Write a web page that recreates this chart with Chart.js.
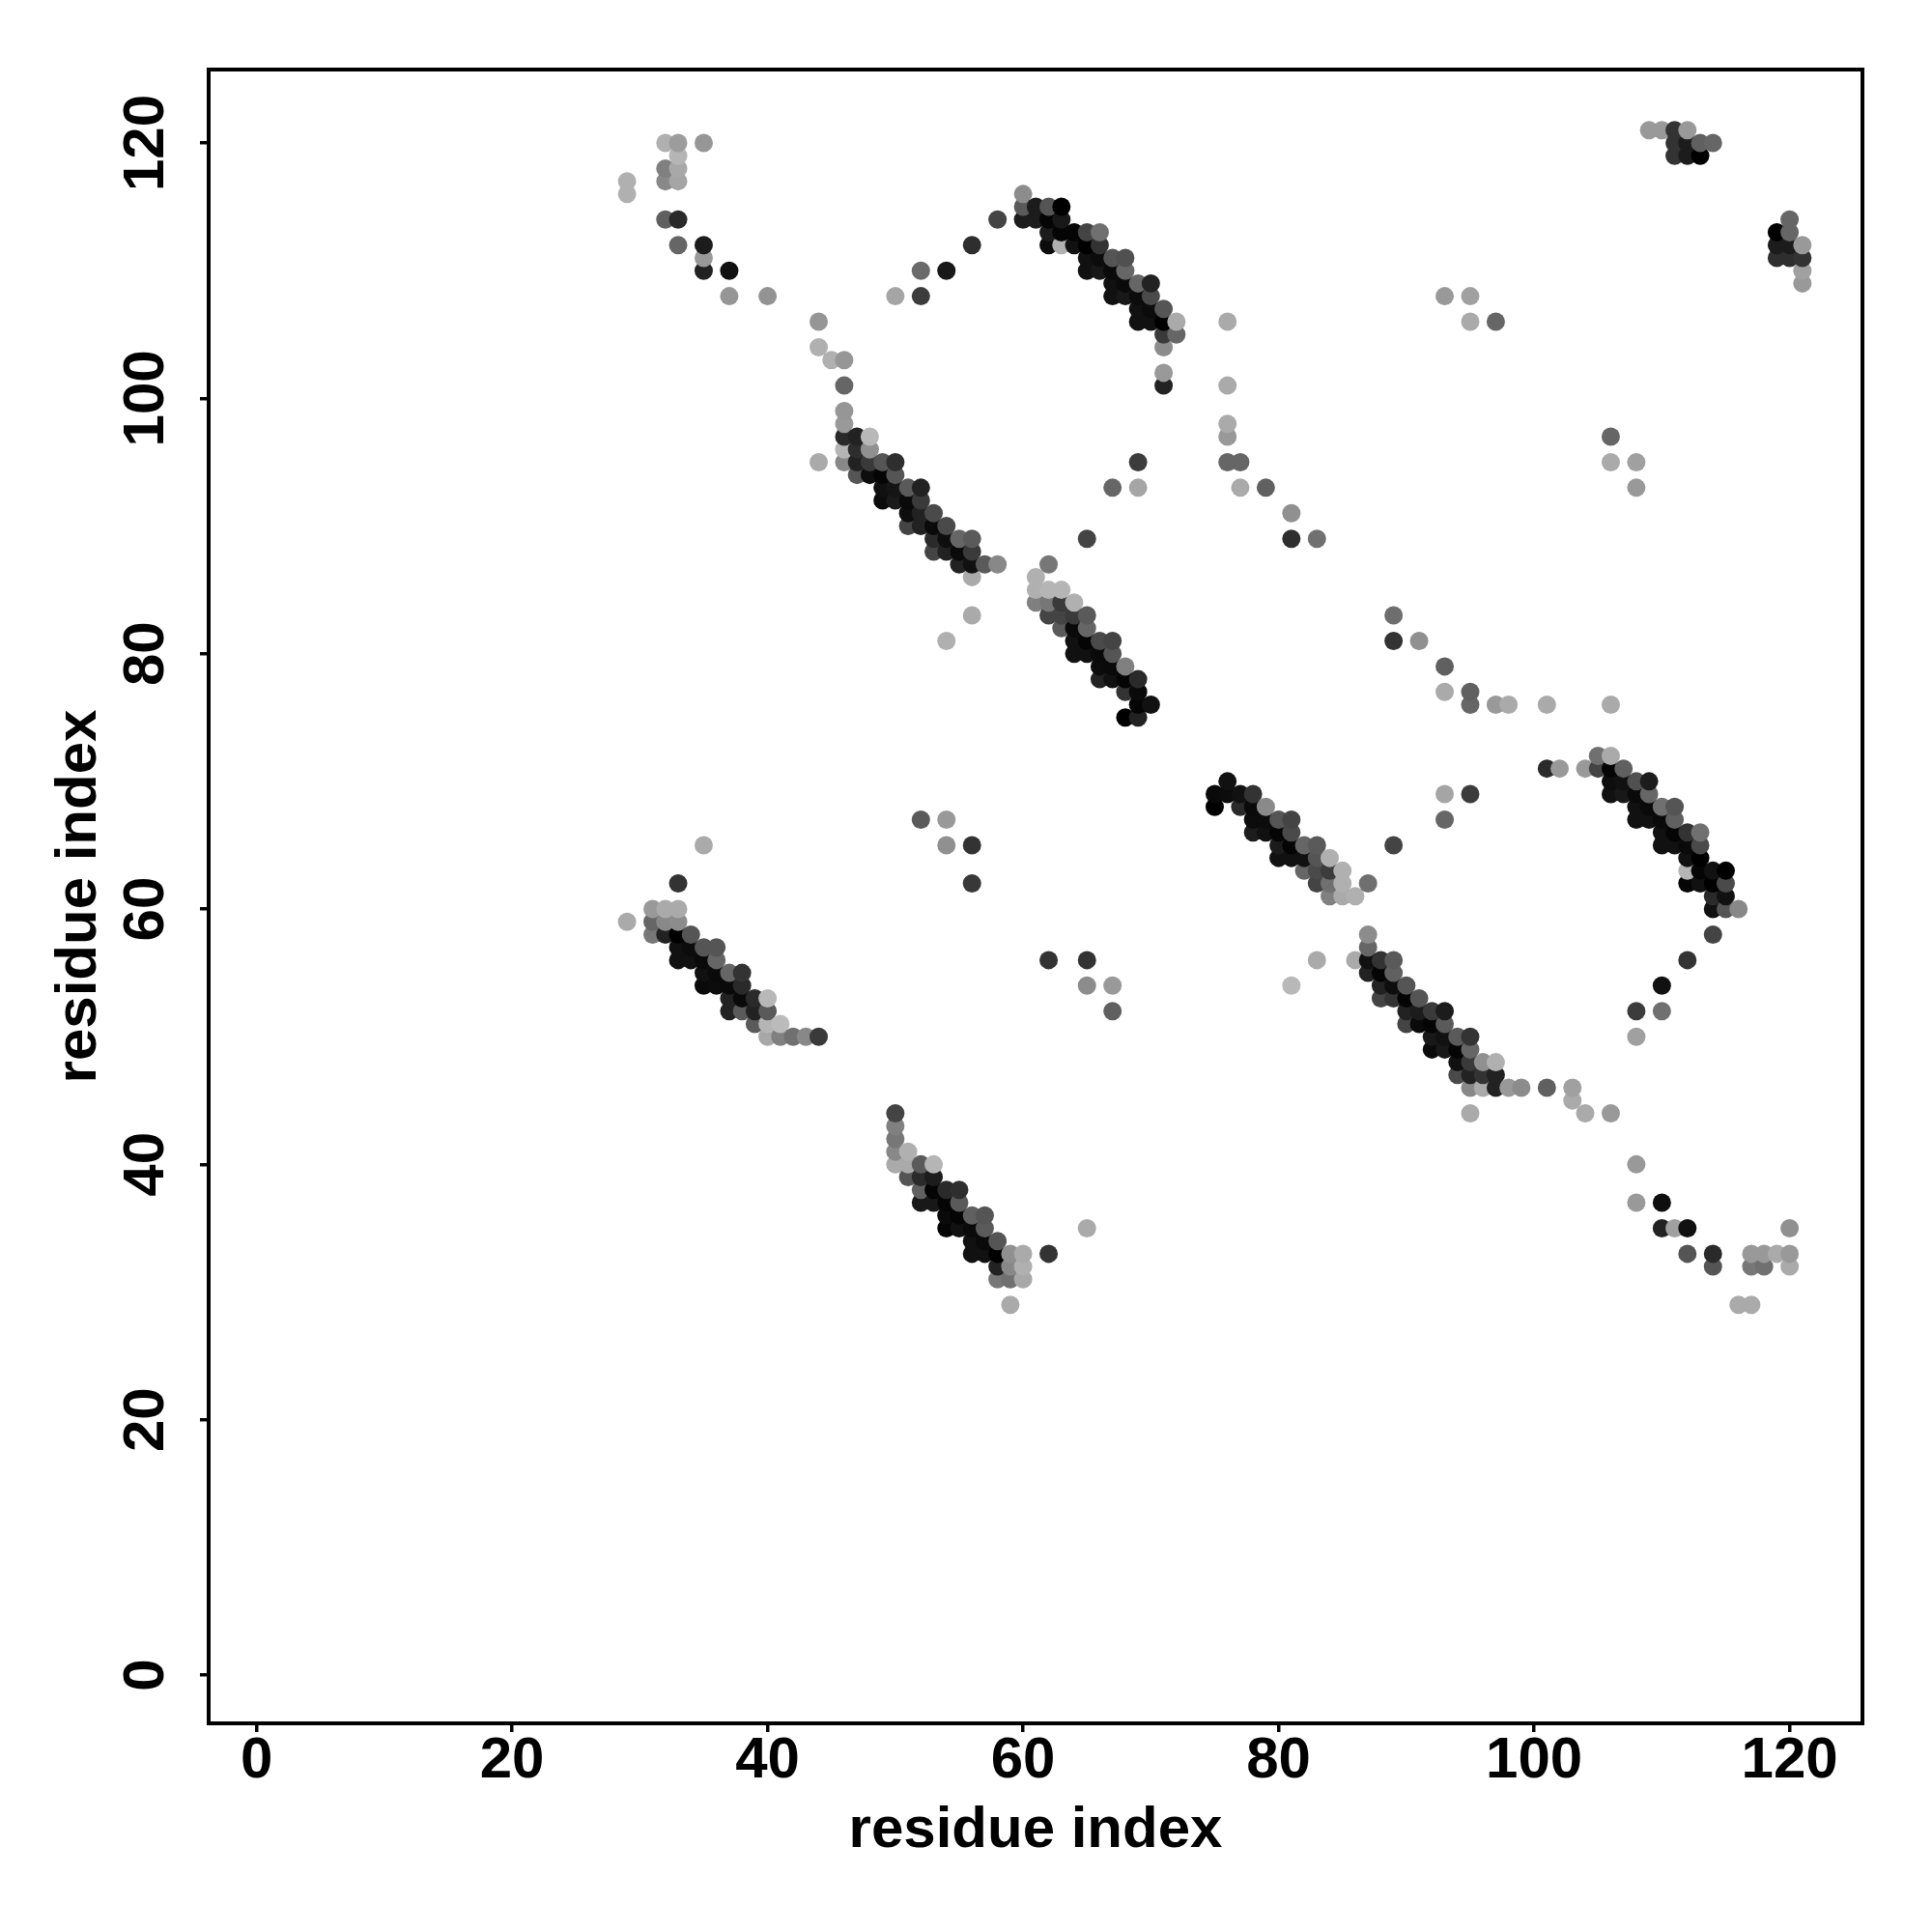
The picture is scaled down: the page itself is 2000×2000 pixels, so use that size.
<!DOCTYPE html>
<html><head><meta charset="utf-8">
<style>html,body{margin:0;padding:0;background:#fff}canvas{display:block}</style>
<script src="https://cdn.jsdelivr.net/npm/chart.js@4"></script>
</head><body><canvas id="c" width="2000" height="2000"></canvas>
<script>
const axisTitle = "residue index";
const tickValues = [0,20,40,60,80,100,120];

const residueX = [
32,33,35, 33, 32,33, 29,32,33, 29, 32,33, 33,35, 35, 35,37, 37,40, 44, 44, 45,46, 46, 46, 46,
46,47,48, 46,47,48, 44,46,47,48,49,50, 47,48,49,50, 49,50,51,52, 49,50,51,52, 51,52,53, 51,52,53,54,
53,54,55,56, 53,54,55,56, 55,56,57,58, 56, 56, 54, 65, 67,69, 69,
60, 60,61,62,63, 60,61,62,63, 58, 56, 54,52, 52, 50, 62,63,64,65,66, 62,63,64,65,66, 65,66,67,68, 65,66,67,68,
67,68,69,70, 67,68,69,70, 69,70,71, 69,70,71,72, 71,72, 71, 71, 71,
62, 61, 61,62,63, 61,62,63,64, 62,63,64,65, 63,64,65, 64,65,66,67, 64,65,66,67, 66,67,68, 66,67,68,69, 68,69, 69,70, 68,69,
35, 33, 29, 31,32,33, 31,32,33, 31,32,33,34, 33,34,35,36, 33,34,35,36, 35,36,37,38, 35,36,37,38,
37,38,39,40, 37,38,39,40, 39,40,41, 40,41,42,43,44,
52,54, 54,56, 56, 62,65, 65,67, 67,
50, 50, 50, 50,51, 50,51,52,53, 51,52,53, 52,53,54,55, 52,53,54,55, 54,55,56,57, 54,55,56,57, 56,57,58, 56,57,58,59,60, 62, 65,
58,59,60, 58,59,60, 59,
93,95, 95,97, 76, 76, 76, 76, 76,77, 77,79, 81, 81,83, 106, 106,108, 108,
89, 89,91, 93, 93,95, 95,97,98,101,106,
109,110,111,112, 111,112,113,114, 111,112,113,
120, 119,120, 119,120,121, 119,120,121, 121, 121,
76, 75,76,77,78, 75,77,78,79, 78,79,80,81, 78,79,80,81, 80,81,82,83, 80,81,82,83,84, 82,83,84,85, 83,84,85,87, 84,85,86,
89, 93,95, 93, 87, 87, 83,86,87,88,89, 81, 87,88,89, 88,89,90, 88,89,90,91, 90,91,92,93, 90,91,92,93,
92,93,94,95, 92,93,94,95, 94,95,96,97, 94,95,96,97, 95,96,97,98,99,101,103, 103, 104,106, 95,
101,102,104,105, 105,106, 106,107, 106,107,108,109, 106,107,108,109, 108,109,110,111, 108,109,110,111,
110,111,112,113, 110,111,112,113, 112,113, 112,113,114,115, 112,113,114,115, 114,115, 114,115,116,
114, 112, 110, 108,110, 108, 108, 108,110, 110,111,112,120,
112,114,117,118,119,120, 114,117,118,120, 116,117
];

const residueY = [
120,120,120, 119, 118,118, 117,117,117, 116, 114,114, 112,112, 111, 110,110, 108,108, 106, 104, 103,103, 101, 99, 98,
97,97,97, 96,96,96, 95,95,95,95,95,95, 94,94,94,94, 93,93,93,93, 92,92,92,92, 91,91,91, 90,90,90,90,
89,89,89,89, 88,88,88,88, 87,87,87,87, 86, 83, 81, 89, 93,93, 95,
116, 115,115,115,115, 114,114,114,114, 114, 112, 110,110, 108, 108, 113,113,113,113,113, 112,112,112,112,112, 111,111,111,111, 110,110,110,110,
109,109,109,109, 108,108,108,108, 107,107,107, 106,106,106,106, 105,105, 104, 102, 101,
87, 86, 85,85,85, 84,84,84,84, 83,83,83,83, 82,82,82, 81,81,81,81, 80,80,80,80, 79,79,79, 78,78,78,78, 77,77, 76,76, 75,75,
65, 62, 59, 60,60,60, 59,59,59, 58,58,58,58, 57,57,57,57, 56,56,56,56, 55,55,55,55, 54,54,54,54,
53,53,53,53, 52,52,52,52, 51,51,51, 50,50,50,50,50,
67,67, 65,65, 62, 56,56, 54,54, 52,
44, 43, 42, 41,41, 40,40,40,40, 39,39,39, 38,38,38,38, 37,37,37,37, 36,36,36,36, 35,35,35,35, 34,34,34, 33,33,33,33,33, 33, 35,
32,32,32, 31,31,31, 29,
108,108, 106,106, 106, 101, 98, 97, 95,95, 93,93, 91, 89,89, 97, 95,95, 93,
83, 81,81, 79, 77,77, 76,76,76,76,76,
121,121,121,121, 120,120,120,120, 119,119,119,
114, 113,113, 112,112,112, 111,111,111, 110, 109,
70, 69,69,69,69, 68,68,68,68, 67,67,67,67, 66,66,66,66, 65,65,65,65, 64,64,64,64,64, 63,63,63,63, 62,62,62,62, 61,61,61,
65, 69,69, 67, 58, 57, 56,56,56,56,56, 54, 55,55,55, 54,54,54, 53,53,53,53, 52,52,52,52, 51,51,51,51,
50,50,50,50, 49,49,49,49, 48,48,48,48, 47,47,47,47, 46,46,46,46,46,46,46, 45, 44,44, 44,
71,71,71,71, 72,72, 71,71, 70,70,70,70, 69,69,69,69, 68,68,68,68, 67,67,67,67,
66,66,66,66, 65,65,65,65, 64,64, 63,63,63,63, 62,62,62,62, 61,61, 60,60,60,
58, 56, 54, 52,52, 50, 40, 37,37, 35,35,35,35,
33,33,33,33,33,33, 32,32,32,32, 29,29
];

// grey level of each contact (0 = black, 255 = white)
const contactShade = [
0xb0,0x9c,0x96, 0xb5, 0x80,0xa8, 0xb0,0x88,0xa5, 0xb0, 0x60,0x2a, 0x66,0x1c, 0x99, 0x22,0x11, 0x96,0x93, 0x96, 0xb0, 0xb0,0x96, 0x66, 0x96, 0x99,
0x2a,0x22,0xb8, 0xb5,0x2d,0x90, 0xaa,0x88,0x22,0x3a,0x55,0x2e, 0x55,0x0e,0x05,0x55, 0x11,0x15,0x5a,0x22, 0x0c,0x1a,0x0a,0x3a, 0x0e,0x22,0x4a, 0x44,0x22,0x0a,0x4a,
0x2a,0x0e,0x66,0x5a, 0x44,0x22,0x0a,0x3a, 0x22,0x11,0x5a,0x88, 0xaa, 0xaa, 0xb0, 0x44, 0x66,0xa5, 0x3c,
0x8c, 0x5a,0x1c,0x55,0x00, 0x1c,0x1c,0x05,0x18, 0x44, 0x2e, 0x18,0x6a, 0x3c, 0xa5, 0x1c,0x05,0x05,0x44,0x70, 0x0c,0xb0,0x11,0x00,0x33, 0x11,0x0c,0x55,0x50, 0x11,0x18,0x0a,0x66,
0x11,0x0a,0x66,0x22, 0x11,0x18,0x0c,0x4a, 0x11,0x0c,0x55, 0x11,0x11,0x00,0xaa, 0x3a,0x66, 0x8c, 0x99, 0x22,
0x77, 0xb0, 0xb0,0xb5,0xb5, 0x80,0x77,0x3a,0xb0, 0x44,0x44,0x3a,0x5a, 0x5a,0x0a,0x66, 0x11,0x05,0x4a,0x44, 0x11,0x11,0x0a,0x55, 0x0c,0x0a,0x80, 0x22,0x11,0x05,0x2a, 0x33,0x0a, 0x05,0x11, 0x00,0x22,
0xaa, 0x33, 0xaa, 0x99,0xaa,0xaa, 0x66,0x88,0x8c, 0x77,0x22,0x00,0x55, 0x11,0x0c,0x55,0x55, 0x11,0x11,0x0a,0x66, 0x11,0x0a,0x66,0x33, 0x0a,0x0c,0x0a,0x2a,
0x22,0x0a,0x2a,0xb8, 0x22,0x5a,0x22,0x5a, 0x5a,0xb5,0xbb, 0xa8,0x80,0x70,0x88,0x3a,
0x5a,0x99, 0x90,0x33, 0x38, 0x33,0x33, 0x8c,0x99, 0x60,
0x44, 0x80, 0x77, 0x88,0xb0, 0xaa,0xaa,0x5a,0xb5, 0x55,0x2a,0x1c, 0x60,0x05,0x2a,0x2e, 0x18,0x18,0x05,0x5a, 0x0a,0x05,0x60,0x55, 0x05,0x11,0x0a,0x5a, 0x11,0x0a,0x55, 0x11,0x11,0x00,0x90,0xaa, 0x33, 0xaa,
0x22,0x88,0xb0, 0x77,0x70,0xa8, 0xaa,
0x99,0xa0, 0xaa,0x66, 0xaa, 0xaa, 0xaa, 0x99, 0x66,0x66, 0xaa,0x60, 0x90, 0x2e,0x70, 0x66, 0xaa,0xa0, 0x99,
0x6e, 0x33,0x90, 0x60, 0xaa,0x60, 0x66,0x99,0xaa,0xaa,0xaa,
0x99,0x99,0x33,0x99, 0x33,0x1c,0x60,0x66, 0x33,0x1c,0x00,
0x66, 0x00,0x66, 0x1c,0x1c,0x99, 0x2e,0x2e,0x33, 0xa0, 0x99,
0x11, 0x0a,0x0c,0x11,0x33, 0x00,0x2a,0x0a,0x8a, 0x0c,0x0c,0x55,0x44, 0x1c,0x11,0x05,0x4a, 0x1c,0x05,0x66,0x5a, 0x11,0x11,0x11,0x55,0xb0, 0x66,0x4a,0x3c,0xb0, 0x44,0x70,0xb0,0x70, 0x80,0xaa,0xb0,
0x44, 0xa5,0x3c, 0x66, 0x8c, 0x66, 0xaa,0xaa,0x11,0x33,0x5a, 0xb8, 0x22,0x05,0x60, 0x22,0x0e,0x55, 0x44,0x33,0x05,0x55, 0x22,0x1c,0x3a,0x1c, 0x44,0x0a,0x05,0x5a,
0x18,0x11,0x5a,0x33, 0x0a,0x18,0x05,0x66, 0x11,0x3a,0x90,0xb0, 0x4a,0x22,0x33,0x22, 0x88,0xaa,0x22,0x99,0x8c,0x60,0xa0, 0xaa, 0xaa,0x99, 0xaa,
0x2a,0x99,0x99,0x44, 0x70,0xaa, 0x05,0x60, 0x0e,0x11,0x50,0x1c, 0x11,0x18,0x0a,0x66, 0x11,0x0a,0x70,0x55, 0x11,0x11,0x0a,0x60,
0x11,0x05,0x33,0x70, 0x11,0x11,0x0a,0x4a, 0x11,0x00, 0xb5,0x05,0x11,0x00, 0x05,0x11,0x00,0x4a, 0x2a,0x11, 0x11,0x55,0x88,
0x44, 0x33, 0x11, 0x3c,0x70, 0xa0, 0x99, 0x99,0x0e, 0x22,0xa0,0x11,0x90,
0x55,0x2a,0x99,0x99,0xaa,0x99, 0x55,0x77,0x70,0xaa, 0xaa,0xaa
];

// later residues are painted over earlier ones, as in the reference
const paintOrder = residueX.map((_, i) => i).sort((a, b) =>
  residueX[a] - residueX[b] || residueY[a] - residueY[b] || a - b);

const plotFrame = {
  id: 'plotFrame',
  afterDraw(chart) {
    const a = chart.chartArea, g = chart.ctx;
    g.save();
    g.strokeStyle = '#000';
    g.lineWidth = 4;
    g.strokeRect(a.left, a.top, a.width, a.height);
    g.restore();
  }
};

const labelFont = { family: '"Liberation Sans", Arial, sans-serif', size: 60, weight: 'bold' };
const useTicks = scale => { scale.ticks = tickValues.map(v => ({ value: v })); };

new Chart(document.getElementById('c'), {
  type: 'scatter',
  data: {
    datasets: [{
      data: paintOrder.map(i => ({ x: residueX[i], y: residueY[i] })),
      pointBackgroundColor: paintOrder.map(i => `rgb(${contactShade[i]},${contactShade[i]},${contactShade[i]})`),
      pointBorderWidth: 0,
      pointRadius: 9.5,
      showLine: false
    }]
  },
  options: {
    responsive: false,
    animation: false,
    devicePixelRatio: 1,
    layout: { padding: { top: 72, right: 72, left: 0, bottom: 0 } },
    plugins: { legend: { display: false }, tooltip: { enabled: false } },
    scales: {
      x: {
        type: 'linear', min: -3.75, max: 125.7,
        afterBuildTicks: useTicks,
        afterFit(s) { s.height = 216; },
        border: { display: true, color: '#000', width: 4 },
        grid: { drawOnChartArea: false, drawTicks: true, tickLength: 9, color: '#000', lineWidth: 3.5 },
        ticks: { color: '#000', font: labelFont, padding: -6, maxRotation: 0, minRotation: 0, autoSkip: false },
        title: { display: true, text: axisTitle, color: '#000', font: labelFont, padding: { top: 0, bottom: 69 } }
      },
      y: {
        type: 'linear', min: -3.78, max: 125.75,
        afterBuildTicks: useTicks,
        afterFit(s) { s.width = 216; },
        border: { display: true, color: '#000', width: 4 },
        grid: { drawOnChartArea: false, drawTicks: true, tickLength: 9, color: '#000', lineWidth: 3.5 },
        ticks: { color: '#000', font: labelFont, padding: 4, minRotation: 90, maxRotation: 90, crossAlign: 'center', autoSkip: false },
        title: { display: true, text: axisTitle, color: '#000', font: labelFont, padding: { top: 46, bottom: 0 } }
      }
    }
  },
  plugins: [plotFrame]
});
</script></body></html>
